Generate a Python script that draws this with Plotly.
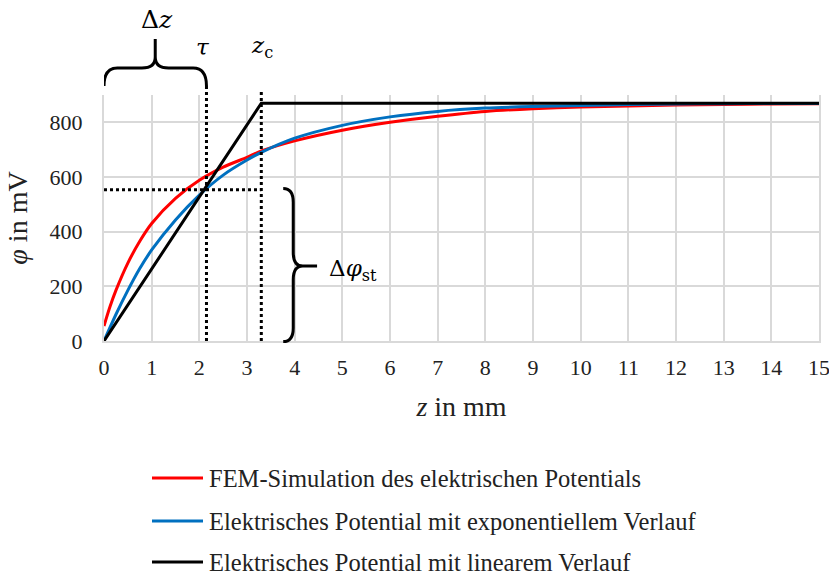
import plotly.graph_objects as go

# ---- data ----
z_fem = [0, 0.125, 0.25, 0.5, 0.75, 1, 1.5, 2, 2.5, 3, 3.3, 4, 5, 6, 7, 8, 9, 10, 11, 12, 13, 14, 15]
phi_fem = [55, 125, 185, 285, 365, 430, 522, 588, 636, 672, 695, 732, 771, 800, 822, 840, 850, 856, 860, 863, 865, 867, 868]

z_exp = [0, 0.25, 0.5, 0.75, 1, 1.5, 2, 2.5, 3, 3.3, 4, 5, 6, 7, 8, 9, 10, 11, 12, 13, 14, 15]
phi_exp = [0, 97, 185, 265, 333, 443, 534, 607, 662, 690, 742, 789, 820, 840, 852, 858, 862, 865, 867, 868, 869, 869]

z_lin = [0, 3.3, 15]
phi_lin = [0, 870, 870]

tau = 2.15
z_c = 3.3
phi_tau = 553

names = ["FEM-Simulation des elektrischen Potentials",
         "Elektrisches Potential mit exponentiellem Verlauf",
         "Elektrisches Potential mit linearem Verlauf"]
colors = ["#ff0000", "#0070c0", "#000000"]

x_ticks = list(range(0, 16))
y_ticks = [0, 200, 400, 600, 800]

SERIF = "Liberation Serif, Times New Roman, serif"
MATH = "DejaVu Serif, serif"

fig = go.Figure()
fig.add_trace(go.Scatter(x=z_fem, y=phi_fem, mode="lines", name=names[0],
                         line=dict(color=colors[0], width=3, shape="spline", smoothing=0.8), showlegend=False))
fig.add_trace(go.Scatter(x=z_exp, y=phi_exp, mode="lines", name=names[1],
                         line=dict(color=colors[1], width=3, shape="spline", smoothing=0.8), showlegend=False))
fig.add_trace(go.Scatter(x=z_lin, y=phi_lin, mode="lines", name=names[2],
                         line=dict(color=colors[2], width=3), showlegend=False))

# plot geometry helpers (pixels -> paper)
L, R, T, B = 104, 819, 95, 341
W, H = 829, 579
def px(x): return (x - L) / (R - L)
def py(y): return (B - y) / (B - T)
Y_MAX = 900
def pv(v): return v / Y_MAX

shapes = []
dot = dict(color="black", width=3, dash="dot")
# dotted guide lines
shapes.append(dict(type="line", xref="x", yref="paper", x0=tau, x1=tau, y0=0, y1=py(83), line=dot))
shapes.append(dict(type="line", xref="x", yref="paper", x0=z_c, x1=z_c, y0=0, y1=py(92), line=dot))
shapes.append(dict(type="line", xref="x", yref="paper", x0=0, x1=z_c, y0=pv(phi_tau), y1=pv(phi_tau), line=dot))

# horizontal brace (Delta z) over 0..tau
ye, ya, yt = py(86), py(68), py(39)
ym = py(57)
xm = tau / 2
r = 0.28
path = (f"M 0,{ye} Q 0,{ya} {r},{ya} L {xm - r},{ya} Q {xm},{ya} {xm},{ym} L {xm},{yt} "
        f"M {xm},{ym} Q {xm},{ya} {xm + r},{ya} L {tau - r},{ya} Q {tau},{ya} {tau},{ye}")
shapes.append(dict(type="path", xref="x", yref="paper", path=path, line=dict(color="black", width=3)))

# vertical brace (Delta phi_st)
xs_end, xs_sp, xs_tip = 3.76, 3.97, 4.47
top, bot = pv(phi_tau + 5), pv(-2)
mid = pv(274)
dv = pv(50)
path2 = (f"M {xs_end},{top} Q {xs_sp},{top} {xs_sp},{top - dv} L {xs_sp},{mid + dv} "
         f"Q {xs_sp},{mid} {xs_sp + 0.2},{mid} L {xs_tip},{mid} "
         f"M {xs_sp + 0.2},{mid} Q {xs_sp},{mid} {xs_sp},{mid - dv} L {xs_sp},{bot + dv} "
         f"Q {xs_sp},{bot} {xs_end},{bot}")
shapes.append(dict(type="path", xref="x", yref="paper", path=path2, line=dict(color="black", width=3)))

# manual legend
leg_rows = [478, 521, 562]
annotations = []
for name, col, ry in zip(names, colors, leg_rows):
    shapes.append(dict(type="line", xref="paper", yref="paper", x0=px(152), x1=px(203),
                       y0=py(ry), y1=py(ry), line=dict(color=col, width=3)))
    annotations.append(dict(xref="paper", yref="paper", x=px(207), y=py(ry), text=name,
                            showarrow=False, xanchor="left", yanchor="middle",
                            font=dict(family=SERIF, size=24.5, color="#222")))

# math labels
annotations += [
    dict(xref="paper", yref="paper", x=px(157), y=py(19), text="Δ<i>z</i>", showarrow=False,
         xanchor="center", yanchor="middle", font=dict(family=MATH, size=25, color="black")),
    dict(xref="paper", yref="paper", x=px(203), y=py(47), text="<i>τ</i>", showarrow=False,
         xanchor="center", yanchor="middle", font=dict(family=MATH, size=23, color="black")),
    dict(xref="paper", yref="paper", x=px(262), y=py(47), text="<i>z</i><sub>c</sub>", showarrow=False,
         xanchor="center", yanchor="middle", font=dict(family=MATH, size=23, color="black")),
    dict(xref="paper", yref="paper", x=px(327), y=py(270), text="Δ<i>φ</i><sub>st</sub>", showarrow=False,
         xanchor="left", yanchor="middle", font=dict(family=MATH, size=23, color="black")),
]

fig.update_layout(
    width=W, height=H,
    font=dict(family=SERIF, size=22, color="#222"),
    margin=dict(l=L, r=W - R, t=T, b=H - B, autoexpand=False),
    paper_bgcolor="white", plot_bgcolor="white",
    showlegend=False,
    shapes=shapes, annotations=annotations,
    xaxis=dict(range=[0, 15], tickvals=x_ticks, ticktext=[str(v) for v in x_ticks],
               automargin=False,
               showgrid=True, gridcolor="#d9d9d9", gridwidth=2,
               showline=True, linecolor="#d9d9d9", linewidth=2,
               zeroline=False, ticks="", ticklabelstandoff=6, ticklabeloverflow="allow",
               tickfont=dict(family=SERIF, size=22, color="#222"),
               title=dict(text="<i>z</i> in mm", font=dict(family=SERIF, size=28, color="#222"), standoff=17)),
    yaxis=dict(range=[0, Y_MAX], tickvals=y_ticks, ticktext=[str(v) for v in y_ticks],
               automargin=False,
               showgrid=True, gridcolor="#d9d9d9", gridwidth=2,
               showline=True, mirror=True, linecolor="#d9d9d9", linewidth=2,
               zeroline=False, ticks="", ticklabelstandoff=15,
               tickfont=dict(family=SERIF, size=22, color="#222"),
               title=dict(text="<i>φ</i> in mV", font=dict(family=SERIF, size=28, color="#222"), standoff=14)),
)

fig.write_html("out.html")
